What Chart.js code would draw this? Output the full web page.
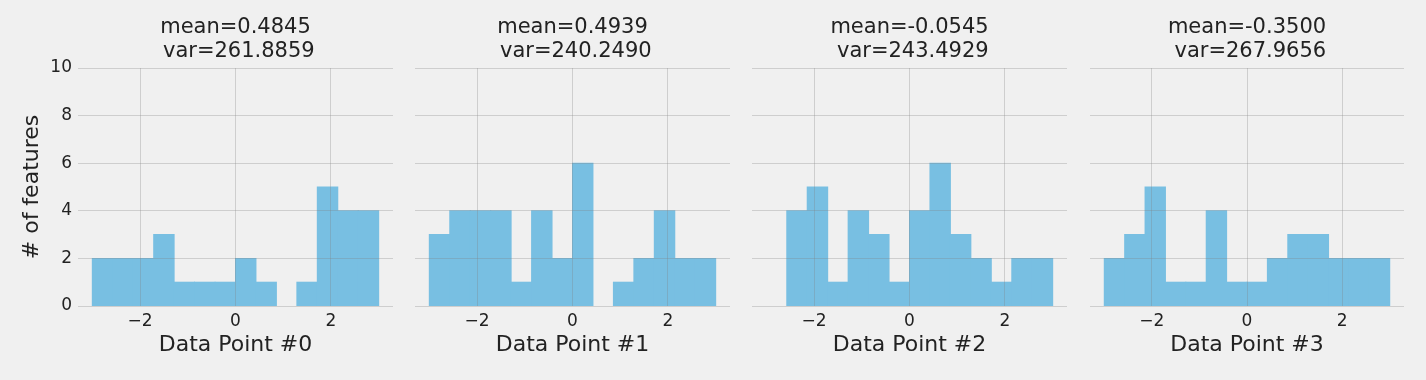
<!DOCTYPE html>
<html>
<head>
<meta charset="utf-8">
<script src="https://cdn.jsdelivr.net/npm/chart.js@4"></script>
<style>
  html, body { margin:0; padding:0; background:#f0f0f0; }
  #wrap { position:relative; width:1426px; height:380px; background:#f0f0f0; }
  #wrap canvas { position:absolute; left:0; top:0; }
</style>
</head>
<body>
<div id="wrap">
  <canvas id="c0" width="1426" height="380"></canvas>
  <canvas id="c1" width="1426" height="380"></canvas>
  <canvas id="c2" width="1426" height="380"></canvas>
  <canvas id="c3" width="1426" height="380"></canvas>
</div>
<script>
// ---- data ----
const binEdges = [-3, -2.5714, -2.1429, -1.7143, -1.2857, -0.8571, -0.4286, 0, 0.4286, 0.8571, 1.2857, 1.7143, 2.1429, 2.5714, 3];
const counts0 = [2, 2, 2, 3, 1, 1, 1, 2, 1, 0, 1, 5, 4, 4];
const counts1 = [3, 4, 4, 4, 1, 4, 2, 6, 0, 1, 2, 4, 2, 2];
const counts2 = [0, 4, 5, 1, 4, 3, 1, 4, 6, 3, 2, 1, 2, 2];
const counts3 = [2, 3, 5, 1, 1, 4, 1, 1, 2, 3, 3, 2, 2, 2];
const titles = [
  ["mean=0.4845", " var=261.8859"],
  ["mean=0.4939", " var=240.2490"],
  ["mean=-0.0545", " var=243.4929"],
  ["mean=-0.3500", " var=267.9656"]
];
const xLabels = ["Data Point #0", "Data Point #1", "Data Point #2", "Data Point #3"];
const yLabel = "# of features";
const xTicks = [-2, 0, 2];
const yTicks = [0, 2, 4, 6, 8, 10];

// ---- layout ----
const W = 1426, H = 380;
const panelLeft = [78, 415, 752, 1090];
const panelRight = [393, 730, 1067, 1404];
const Y_AXIS_W = 78;
const X_AXIS_H = 74;
const FONT = "'DejaVu Sans', sans-serif";
const TEXT = '#222222';
const GRID = 'rgba(128,128,128,0.3)';
const BAR = '#78bfe2';

const allCounts = [counts0, counts1, counts2, counts3];

function fmtTick(v) {
  return (v < 0 ? '\u2212' + Math.abs(v) : String(v));
}

allCounts.forEach((counts, i) => {
  const pts = counts.map((c, k) => ({ x: (binEdges[k] + binEdges[k + 1]) / 2, y: c > 0 ? c : null }));
  new Chart(document.getElementById('c' + i), {
    type: 'bar',
    data: {
      datasets: [{
        data: pts,
        backgroundColor: BAR,
        borderWidth: 0,
        inflateAmount: 0.5,
        barPercentage: 1.0,
        categoryPercentage: 1.0,
        grouped: false
      }]
    },
    options: {
      responsive: false,
      animation: false,
      devicePixelRatio: 1,
      events: [],
      layout: {
        padding: { left: panelLeft[i] - Y_AXIS_W, right: W - panelRight[i], top: 0, bottom: 0 }
      },
      plugins: {
        legend: { display: false },
        tooltip: { enabled: false },
        title: {
          display: true,
          fullSize: false,
          text: titles[i],
          color: TEXT,
          font: { family: FONT, size: 21, weight: 'normal', lineHeight: '24px' },
          padding: { top: 16, bottom: 4 }
        }
      },
      scales: {
        x: {
          type: 'linear',
          min: -3.3,
          max: 3.3,
          offset: false,
          afterBuildTicks: (s) => { s.ticks = xTicks.map(v => ({ value: v })); },
          afterFit: (s) => { s.height = X_AXIS_H; },
          ticks: {
            color: TEXT,
            font: { family: FONT, size: 17 },
            padding: 5,
            maxRotation: 0,
            autoSkip: false,
            callback: (v) => fmtTick(v)
          },
          grid: { color: GRID, lineWidth: 1, drawTicks: false, offset: false, z: 1 },
          border: { display: false },
          title: {
            display: true,
            text: xLabels[i],
            color: TEXT,
            font: { family: FONT, size: 22, lineHeight: 1.2 },
            padding: { top: 0, bottom: 22 }
          }
        },
        y: {
          type: 'linear',
          min: 0,
          max: 10,
          afterBuildTicks: (s) => { s.ticks = yTicks.map(v => ({ value: v })); },
          afterFit: (s) => { s.width = Y_AXIS_W; },
          ticks: {
            display: i === 0,
            color: TEXT,
            font: { family: FONT, size: 17 },
            padding: 6,
            callback: (v) => fmtTick(v)
          },
          grid: { color: GRID, lineWidth: 1, drawTicks: false, z: 1 },
          border: { display: false },
          title: {
            display: i === 0,
            text: yLabel,
            color: TEXT,
            font: { family: FONT, size: 22, lineHeight: 1.2 },
            padding: { top: 19, bottom: 0 }
          }
        }
      }
    }
  });
});
</script>
</body>
</html>
